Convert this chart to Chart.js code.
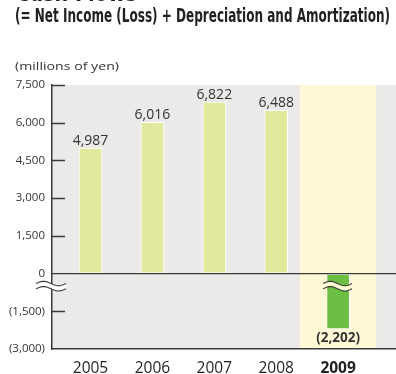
<!DOCTYPE html>
<html>
<head>
<meta charset="utf-8">
<script src="https://cdn.jsdelivr.net/npm/chart.js@4.4.1/dist/chart.umd.min.js"></script>
<style>
  html, body { margin: 0; padding: 0; background: #fff; }
  #wrap { position: relative; width: 396px; height: 374px; overflow: hidden; }
  #c { position: absolute; left: 0; top: 0; }
  .t { position: absolute; white-space: nowrap; color: #231f20; transform-origin: 0 0; }
  #t1 { left: 16px; top: -20px; font: bold 23px "Liberation Sans Narrow", "DejaVu Sans Condensed", sans-serif; }
  #t2 { left: 15px; top: 4px; font: bold 19px "Liberation Sans Narrow", "DejaVu Sans Condensed", sans-serif; }
  #unit { left: 15px; top: 58px; font: 11.5px "Open Sans", sans-serif; color: #333; }
</style>
</head>
<body>
<div id="wrap">
  <canvas id="c" width="396" height="374"></canvas>
  <div class="t" id="t1" data-w="121">Cash Flows</div>
  <div class="t" id="t2" data-w="375">(= Net Income (Loss) + Depreciation and Amortization)</div>
  <div class="t" id="unit" data-w="104">(millions of yen)</div>
</div>
<script>
// Fiscal years and cash flows (millions of yen)
const years = ['2005', '2006', '2007', '2008', '2009'];
const cashFlows = [4987, 6016, 6822, 6488, -2202];
const yTickValues = [-3000, -1500, 0, 1500, 3000, 4500, 6000, 7500];
const highlightYear = '2009';

const FONT = '"Open Sans", sans-serif';
const INK = '#333333';
const AXIS = '#3a3a3a';
const PLOT_BG = '#ebeae8';
const BAND_BG = '#fffad5';
const BAR_PALE = '#e0e99c';
const BAR_GREEN = '#6dbf44';
const BREAK_VALUE = -500;   // where the broken-axis marks sit

const hi = years.indexOf(highlightYear);

// fit the headings to their set widths
document.querySelectorAll('[data-w]').forEach(el => {
  const w = el.getBoundingClientRect().width;
  el.style.transform = 'scaleX(' + (Number(el.dataset.w) / w) + ')';
});

function fmt(v) {
  const s = Math.abs(v).toLocaleString('en-US');
  return v < 0 ? '(' + s + ')' : s;
}

function wavePath(ctx, x0, x1, y, amp) {
  const n = 24;
  for (let i = 0; i <= n; i++) {
    const t = i / n;
    const x = x0 + (x1 - x0) * t;
    const yy = y - amp * Math.sin(t * 2 * Math.PI);
    if (i === 0) ctx.moveTo(x, yy); else ctx.lineTo(x, yy);
  }
}

function drawBreak(ctx, x0, x1, y, fill) {
  const gap = 2.6, amp = 2.2;
  ctx.save();
  ctx.beginPath();
  wavePath(ctx, x0, x1, y - gap, amp);
  const n = 24;
  for (let i = n; i >= 0; i--) {
    const t = i / n;
    ctx.lineTo(x0 + (x1 - x0) * t, y + gap - amp * Math.sin(t * 2 * Math.PI));
  }
  ctx.closePath();
  ctx.fillStyle = fill;
  ctx.fill();
  ctx.strokeStyle = AXIS;
  ctx.lineWidth = 1.1;
  ctx.beginPath(); wavePath(ctx, x0, x1, y - gap, amp); ctx.stroke();
  ctx.beginPath(); wavePath(ctx, x0, x1, y + gap, amp); ctx.stroke();
  ctx.restore();
}

const decor = {
  id: 'decor',
  beforeDraw(chart) {
    const { ctx, chartArea: a, scales: { x } } = chart;
    ctx.save();
    ctx.fillStyle = PLOT_BG;
    ctx.fillRect(a.left, a.top, a.right - a.left, a.bottom - a.top);
    const cx = x.getPixelForValue(hi);
    const half = (x.getPixelForValue(1) - x.getPixelForValue(0)) * 0.614;
    ctx.fillStyle = BAND_BG;
    ctx.fillRect(cx - half, a.top, half * 2, a.bottom - a.top);
    ctx.restore();
  },
  afterDatasetsDraw(chart) {
    const { ctx, chartArea: a, scales: { y } } = chart;
    ctx.save();
    // zero line
    const y0 = y.getPixelForValue(0);
    ctx.strokeStyle = AXIS;
    ctx.lineWidth = 1.3;
    ctx.beginPath(); ctx.moveTo(a.left, y0); ctx.lineTo(a.right, y0); ctx.stroke();
    // inner tick marks
    ctx.lineWidth = 1.5;
    yTickValues.forEach(v => {
      if (v === 0 || v === y.min) return;
      const py = Math.round(y.getPixelForValue(v)) + 0.5;
      ctx.beginPath(); ctx.moveTo(a.left, py); ctx.lineTo(a.left + 13, py); ctx.stroke();
    });
    // value labels
    const meta = chart.getDatasetMeta(0);
    meta.data.forEach((bar, i) => {
      const v = cashFlows[i];
      ctx.fillStyle = INK;
      ctx.textAlign = 'center';
      if (v >= 0) {
        ctx.font = '14px ' + FONT;
        ctx.textBaseline = 'alphabetic';
        ctx.fillText(fmt(v), bar.x, bar.y - 3);
      } else {
        ctx.font = 'bold 13.5px ' + FONT;
        ctx.textBaseline = 'top';
        ctx.fillText(fmt(v), bar.x, bar.y + 2);
      }
    });
    // broken-axis marks
    const yb = y.getPixelForValue(BREAK_VALUE);
    drawBreak(ctx, a.left - 16, a.left + 14, yb, '#ffffff');
    meta.data.forEach((bar, i) => {
      if (cashFlows[i] < 0) drawBreak(ctx, bar.x - 15, bar.x + 14, yb, BAND_BG);
    });
    ctx.restore();
  }
};

new Chart(document.getElementById('c'), {
  type: 'bar',
  data: {
    datasets: [{
      data: years.map((_, i) => ({ x: i, y: cashFlows[i] })),
      backgroundColor: cashFlows.map((_, i) => i === hi ? BAR_GREEN : BAR_PALE),
      borderColor: '#ffffff',
      borderWidth: 1,
      borderSkipped: false,
      barThickness: 23
    }]
  },
  options: {
    responsive: false,
    animation: false,
    devicePixelRatio: 1,
    layout: { padding: { top: 85, left: 0, right: 0, bottom: 0 } },
    plugins: { legend: { display: false }, tooltip: { enabled: false } },
    scales: {
      x: {
        type: 'linear',
        offset: false,
        min: -0.622,
        max: 4.935,
        afterBuildTicks: s => { s.ticks = years.map((_, i) => ({ value: i })); },
        afterFit: s => { s.height = 25; },
        grid: { drawOnChartArea: false, drawTicks: false, offset: false },
        border: { display: true, color: AXIS, width: 1.5 },
        ticks: {
          autoSkip: false, maxRotation: 0, padding: 10, color: '#231f20',
          callback: v => years[v],
          font: c => ({ family: FONT, size: 15.5, weight: c.index === hi ? 'bold' : 'normal' })
        }
      },
      y: {
        min: -3000,
        max: 7500,
        afterBuildTicks: s => { s.ticks = yTickValues.map(v => ({ value: v })); },
        afterFit: s => { s.width = 52; },
        grid: { drawOnChartArea: false, drawTicks: false },
        border: { display: true, color: AXIS, width: 1.5 },
        ticks: {
          padding: 7, color: INK,
          font: { family: FONT, size: 11.5 },
          callback: v => fmt(v)
        }
      }
    }
  },
  plugins: [decor]
});
</script>
</body>
</html>
